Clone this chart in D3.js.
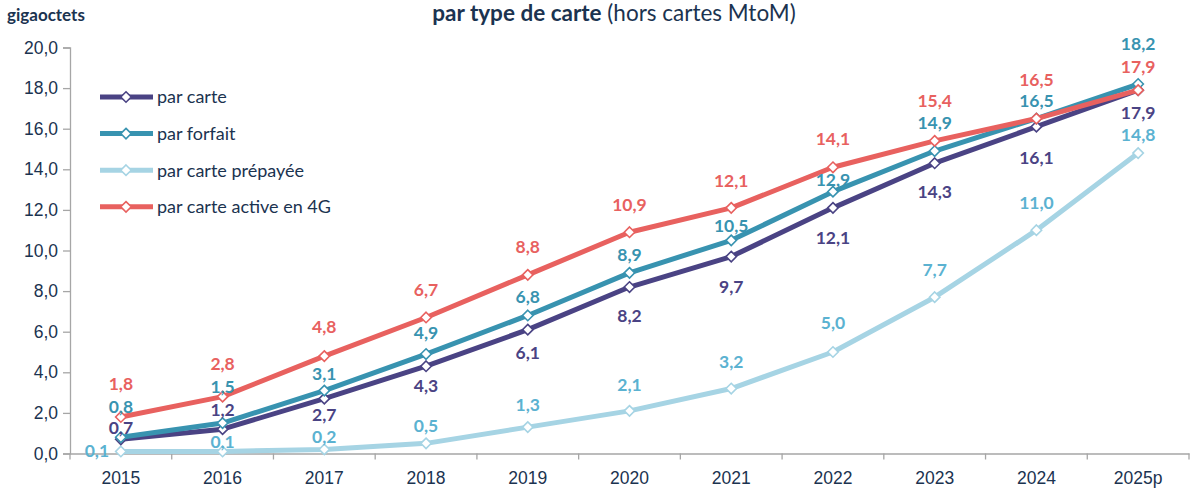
<!DOCTYPE html>
<html>
<head>
<meta charset="utf-8">
<script src="https://cdn.jsdelivr.net/npm/d3@7"></script>
<style>
  body { margin: 0; background: #fff; }
  svg { font-family: Lato, "Open Sans", sans-serif; }
</style>
</head>
<body>
<div id="chart"></div>
<script>
// data
var years = ["2015","2016","2017","2018","2019","2020","2021","2022","2023","2024","2025p"];
var parCarte     = [0.7, 1.2, 2.7, 4.3, 6.1, 8.2, 9.7, 12.1, 14.3, 16.1, 17.9];
var parForfait   = [0.8, 1.5, 3.1, 4.9, 6.8, 8.9, 10.5, 12.9, 14.9, 16.5, 18.2];
var parPrepayee  = [0.1, 0.1, 0.2, 0.5, 1.3, 2.1, 3.2, 5.0, 7.7, 11.0, 14.8];
var parCarte4G   = [1.8, 2.8, 4.8, 6.7, 8.8, 10.9, 12.1, 14.1, 15.4, 16.5, 17.9];
var yTicks = [0, 2, 4, 6, 8, 10, 12, 14, 16, 18, 20];

// label placement (pixels relative to the point), kept apart from the values
var dyCarte    = [-11, -19, 16, 20, 23, 29, 30, 30, 29, 31, 23];
var dyForfait  = [-30, -36, -17, -21, -19, -18, -14, -12, -28, -18, -40];
var dyPrepayee = [-1, -10, -13, -17, -22, -26, -27, -29, -27, -27, -18];
var dy4G       = [-33, -33, -29, -28, -28, -27, -27, -28, -40, -39, -23];

var series = [
  {name: "par carte prépayée", values: parPrepayee, dy: dyPrepayee, col: "#a6d4e4", lab: "#5bb2d1"},
  {name: "par carte", values: parCarte, dy: dyCarte, col: "#4a4384", lab: "#4a4384"},
  {name: "par forfait", values: parForfait, dy: dyForfait, col: "#3893b0", lab: "#3893b0"},
  {name: "par carte active en 4G", values: parCarte4G, dy: dy4G, col: "#e8615f", lab: "#e8615f"}
];
var legendOrder = [1, 2, 0, 3];

var W = 1190, H = 491;
var svg = d3.select("#chart").append("svg").attr("width", W).attr("height", H);

var x = d3.scaleBand().domain(years).range([70, 1189]);
var y = d3.scaleLinear().domain([0, 20]).range([453.5, 47.5]);
var fmt = function(v) { return d3.format(".1f")(v).replace(".", ","); };
var navy = "#1b3350";

// title
var title = svg.append("text").attr("x", 614).attr("y", 21)
  .attr("text-anchor", "middle").attr("fill", navy).attr("font-size", 22.5);
title.append("tspan").attr("font-weight", "bold").text("par type de carte");
title.append("tspan").text(" (hors cartes MtoM)");

svg.append("text").attr("x", 7).attr("y", 21)
  .attr("font-weight", "bold").attr("font-size", 17).attr("fill", navy)
  .text("gigaoctets");

// y axis
var yAxis = svg.append("g").attr("transform", "translate(70,0)")
  .call(d3.axisLeft(y).tickValues(yTicks).tickSize(7).tickPadding(5).tickFormat(fmt));
yAxis.selectAll("path, line").attr("stroke", "#a6a6a6").attr("stroke-width", 1.3);
yAxis.selectAll("text").attr("font-size", 17.5).attr("fill", navy).attr("font-family", null);

// x axis
var xAxis = svg.append("g").attr("transform", "translate(0," + y(0) + ")")
  .call(d3.axisBottom(x).tickSize(0).tickPadding(18));
xAxis.select("path").attr("stroke", "#a6a6a6").attr("stroke-width", 1.3);
xAxis.selectAll("text").attr("font-size", 17.5).attr("fill", navy).attr("font-family", null);
var bounds = years.map(function(d) { return x(d); }).concat([x.range()[1]]);
xAxis.selectAll(".sep").data(bounds).enter().append("line")
  .attr("x1", function(d) { return d; }).attr("x2", function(d) { return d; })
  .attr("y1", 0).attr("y2", 6).attr("stroke", "#a6a6a6").attr("stroke-width", 1.3);

var cx = function(d, i) { return x(years[i]) + x.bandwidth() / 2; };
var line = d3.line().x(cx).y(function(d) { return y(d); });
var diamond = d3.symbol().type(d3.symbolDiamond2).size(70);

series.forEach(function(s) {
  var g = svg.append("g");
  g.append("path").datum(s.values).attr("d", line)
    .attr("fill", "none").attr("stroke", s.col).attr("stroke-width", 5)
    .attr("stroke-linejoin", "round");
  g.selectAll("path.pt").data(s.values).enter().append("path")
    .attr("class", "pt").attr("d", diamond)
    .attr("transform", function(d, i) { return "translate(" + cx(d, i) + "," + y(d) + ")"; })
    .attr("fill", "#fff").attr("stroke", s.col).attr("stroke-width", 1.6);
});

// value labels on top
series.forEach(function(s) {
  svg.append("g").selectAll("text").data(s.values).enter().append("text")
    .attr("x", function(d, i) {
      // first prepaid label sits left of its point
      return (s.values === parPrepayee && i === 0) ? cx(d, i) - 24 : cx(d, i);
    })
    .attr("y", function(d, i) { return y(d) + s.dy[i]; })
    .attr("dy", "0.35em").attr("text-anchor", "middle")
    .attr("font-size", 17.5).attr("font-weight", "bold").attr("fill", s.lab)
    .text(fmt);
});

// legend
var leg = svg.append("g");
legendOrder.forEach(function(k, j) {
  var s = series[k], ly = 97 + j * 36.6;
  leg.append("line").attr("x1", 100).attr("x2", 153).attr("y1", ly).attr("y2", ly)
    .attr("stroke", s.col).attr("stroke-width", 5);
  leg.append("path").attr("d", diamond).attr("transform", "translate(126," + ly + ")")
    .attr("fill", "#fff").attr("stroke", s.col).attr("stroke-width", 1.6);
  leg.append("text").attr("x", 157).attr("y", ly).attr("dy", "0.35em")
    .attr("font-size", 18).attr("fill", navy).text(s.name);
});
</script>
</body>
</html>
